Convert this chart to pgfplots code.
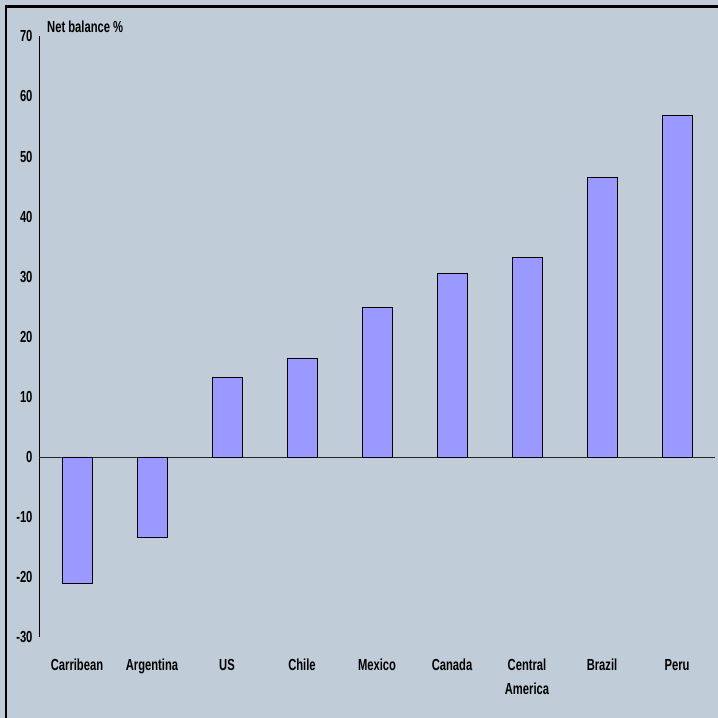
\documentclass[border=0pt]{standalone}
\usepackage{fontspec}
\setmainfont{Liberation Sans}[FakeStretch=0.70]
\usepackage{pgfplots}
\pgfplotsset{compat=1.18}

\definecolor{panel}{RGB}{192,204,216}
\definecolor{barfill}{RGB}{153,153,255}

\begin{document}
\begin{tikzpicture}
  % page background and frame
  \clip (0,0) rectangle (718pt,718pt);
  \fill[panel] (0,0) rectangle (718pt,718pt);
  \draw[line width=2.5pt] (6pt,-10pt) -- (6pt,711.5pt) -- (730pt,711.5pt);

  \begin{axis}[
    at={(39.5pt,80.7pt)}, anchor=south west,
    scale only axis,
    width=675pt, height=601pt,
    xmin=-0.5, xmax=8.5,
    ymin=-30, ymax=70,
    axis lines*=left,
    y axis line style={black, line width=0.9pt, -},
    x axis line style={draw=none, -},
    major tick length=0pt,
    ytick={-30,-20,...,70},
    xtick={0,...,8},
    xticklabels={Carribean, Argentina, US, Chile, Mexico, Canada, {Central\\America}, Brazil, Peru},
    font=\fontsize{16}{24}\selectfont\bfseries,
    /pgf/number format/assume math mode=true,
    yticklabel style={anchor=east, xshift=-3.5pt},
    xticklabel style={anchor=north, align=center, yshift=-18.5pt},
    ybar, bar width=30pt,
    clip=false,
  ]
    \draw[black!85, line width=0.9pt] (axis cs:-0.5,0) -- (axis cs:8.5,0);
    \addplot[fill=barfill, draw=black, line width=0.9pt, bar shift=0pt]
      coordinates {(0,-21.0) (1,-13.4) (2,13.2) (3,16.4) (4,24.9) (5,30.5) (6,33.2) (7,46.5) (8,56.9)};
    \node[anchor=base west, inner sep=0pt, font=\fontsize{16}{19}\selectfont\bfseries]
      at (rel axis cs:0,1) [xshift=7.5pt, yshift=3.5pt] {Net balance \%};
  \end{axis}
\end{tikzpicture}
\end{document}
